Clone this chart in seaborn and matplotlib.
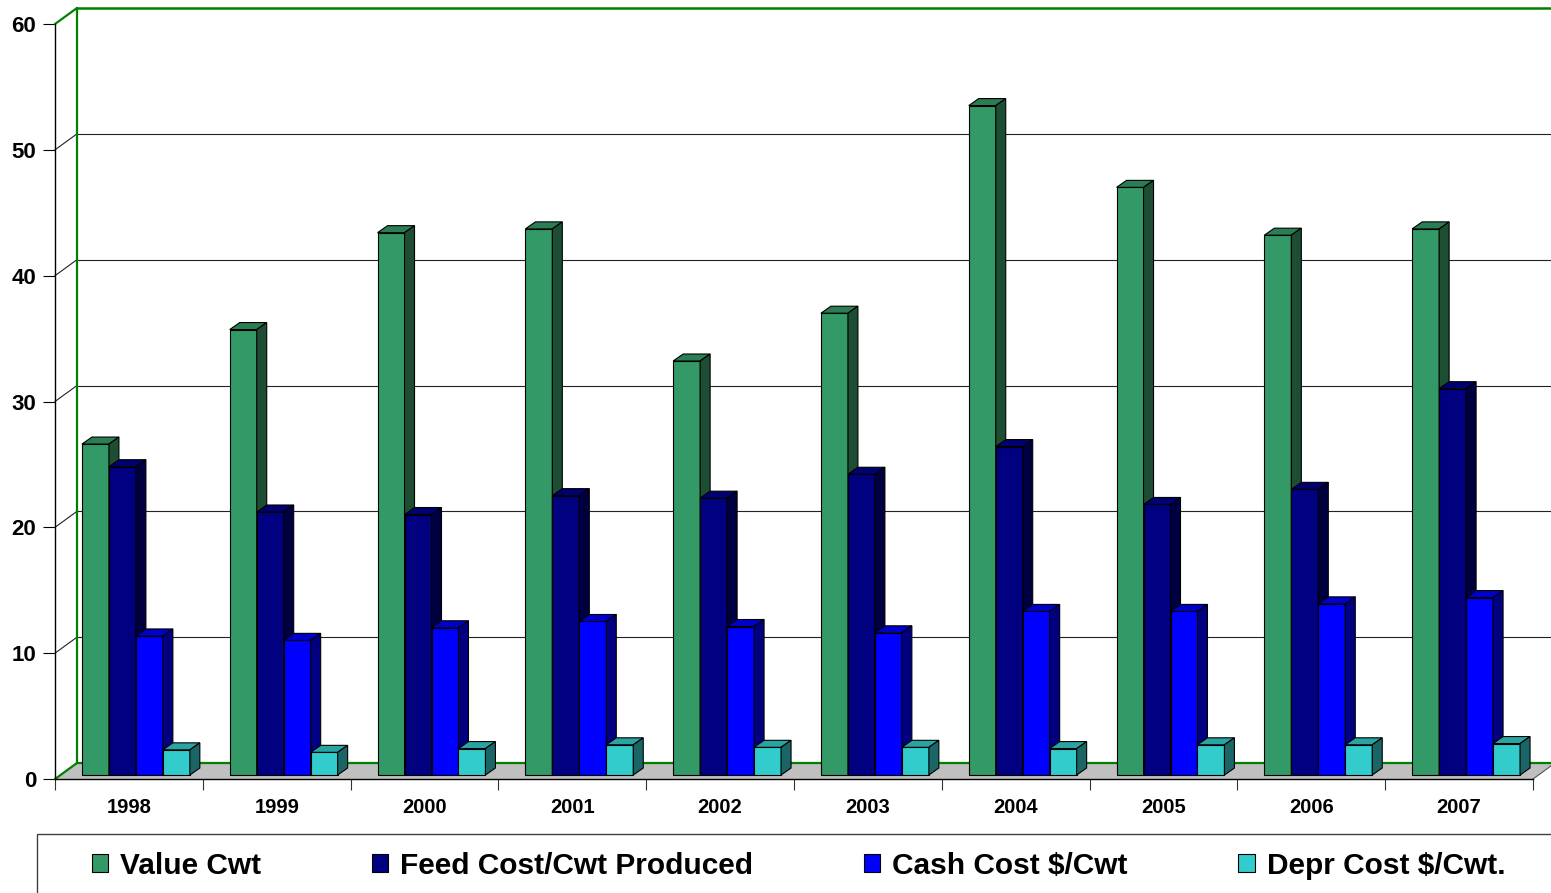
import numpy as np
import pandas as pd
import seaborn as sns
import matplotlib.pyplot as plt
import matplotlib.colors as mcolors
import matplotlib.transforms as mtransforms
from matplotlib.patches import Polygon, Rectangle, Patch

# values
years = ["1998", "1999", "2000", "2001", "2002", "2003", "2004", "2005", "2006", "2007"]
value_cwt = [26.3, 35.4, 43.1, 43.4, 32.9, 36.7, 53.2, 46.7, 42.9, 43.4]
feed_cost = [24.5, 20.9, 20.7, 22.2, 22.0, 23.9, 26.1, 21.5, 22.7, 30.7]
cash_cost = [11.05, 10.7, 11.7, 12.2, 11.8, 11.3, 13.0, 13.0, 13.6, 14.1]
depr_cost = [2.0, 1.8, 2.1, 2.4, 2.2, 2.2, 2.1, 2.4, 2.4, 2.5]
series = ["Value Cwt", "Feed Cost/Cwt Produced", "Cash Cost $/Cwt", "Depr Cost $/Cwt."]

# colours: front face, top face, side face
front_colors = ["#339966", "#000080", "#0000ff", "#33cccc"]
top_colors = ["#2b7d53", "#000070", "#0000cc", "#2aa3a3"]
side_colors = ["#1d4d33", "#000040", "#000080", "#1a6666"]

df = pd.DataFrame({
    "Year": years * 4,
    "Series": np.repeat(series, len(years)),
    "Value": value_cwt + feed_cost + cash_cost + depr_cost,
})

sns.set_theme(style="ticks")
plt.rcParams["font.family"] = ["Liberation Sans", "DejaVu Sans"]
plt.rcParams["font.weight"] = "bold"
plt.rcParams["text.color"] = "black"
plt.rcParams["xtick.labelcolor"] = "black"
plt.rcParams["ytick.labelcolor"] = "black"

W, H = 1551, 893
fig = plt.figure(figsize=(W / 100, H / 100), dpi=100)
# front plane of the 3d box
ax = fig.add_axes([55 / W, (H - 779) / H, 1478 / W, 755 / H])

sns.barplot(
    data=df, x="Year", y="Value", hue="Series", hue_order=series,
    palette=front_colors, saturation=1, width=0.73,
    edgecolor="black", linewidth=0.8, legend=False, ax=ax,
)
ax.set_xlim(-0.5, 9.5)
ax.set_ylim(0, 60)

# pixel -> data unit factors
sx = 1478 / 10
sy = 755 / 60
wall_dx, wall_dy = 22 / sx, 16 / sy
bar_dx, bar_dy = 10 / sx, 7 / sy

bar_tr = ax.transData + mtransforms.ScaledTranslation(0.07, 0.04, fig.dpi_scale_trans)
wall_tr = ax.transData + mtransforms.ScaledTranslation(0.22, 0.16, fig.dpi_scale_trans)

# give each bar a top and side face
for p in list(ax.patches):
    hexc = mcolors.to_hex(p.get_facecolor())
    if hexc not in front_colors:
        continue
    k = front_colors.index(hexc)
    x, y0, w, h = p.get_x(), p.get_y(), p.get_width(), p.get_height()
    top = y0 + h
    p.set_transform(bar_tr)
    p.set_zorder(3 + k)
    p.set_clip_on(False)
    top_face = Polygon([(x, top), (x + w, top), (x + w + bar_dx, top + bar_dy), (x + bar_dx, top + bar_dy)],
                       closed=True, facecolor=top_colors[k], edgecolor="black", lw=0.8,
                       transform=bar_tr, zorder=3 + k, clip_on=False)
    side_face = Polygon([(x + w, y0), (x + w + bar_dx, y0 + bar_dy), (x + w + bar_dx, top + bar_dy), (x + w, top)],
                        closed=True, facecolor=side_colors[k], edgecolor="black", lw=0.8,
                        transform=bar_tr, zorder=3 + k, clip_on=False)
    ax.add_patch(top_face)
    ax.add_patch(side_face)

# floor
floor = Polygon([(-0.5, 0), (9.5, 0), (9.5 + wall_dx, wall_dy), (-0.5 + wall_dx, wall_dy)],
                closed=True, facecolor="#c0c0c0", edgecolor="none", zorder=1, clip_on=False)
ax.add_patch(floor)
ax.plot([9.5, 9.5 + wall_dx], [0, wall_dy], color="#555555", lw=0.8, zorder=1.2, clip_on=False)

# gridlines on back wall and side wall
for v in range(10, 60, 10):
    ax.plot([-0.5, 10.5], [v, v], transform=wall_tr, color="#222222", lw=0.8, zorder=0.8, clip_on=False)
    ax.plot([-0.5, -0.5 + wall_dx], [v, v + wall_dy], color="#222222", lw=0.8, zorder=0.8, clip_on=False)

# green wall border
green = "#008000"
ax.plot([-0.5, -0.5], [0, 60], transform=wall_tr, color=green, lw=1.6, zorder=1.5, clip_on=False)
ax.plot([-0.5, 10.5], [60, 60], transform=wall_tr, color=green, lw=1.8, zorder=1.5, clip_on=False)
ax.plot([-0.5, 10.5], [0, 0], transform=wall_tr, color=green, lw=1.6, zorder=1.5, clip_on=False)
for v in (0, 60):
    ax.plot([-0.5, -0.5 + wall_dx], [v, v + wall_dy], color=green, lw=1.6, zorder=1.5, clip_on=False)

# axes styling
ax.patch.set_alpha(0)
sns.despine(ax=ax, top=True, right=True)
for s in ("left", "bottom"):
    ax.spines[s].set_color("black")
    ax.spines[s].set_linewidth(1.0)
ax.set_xlabel("")
ax.set_ylabel("")
ax.set_yticks(range(0, 61, 10))
ax.tick_params(axis="y", left=True, length=8.6, width=0.8, color="black", pad=5, labelsize=16,
               labelcolor="black")
ax.set_xticks(np.arange(-0.5, 10, 1), minor=True)
ax.tick_params(axis="x", which="major", length=0, pad=14, labelsize=14.5, labelcolor="black")
ax.tick_params(axis="x", which="minor", bottom=True, length=8, width=0.8, color="#333333")

# legend with a box running off the figure
handles = [Patch(facecolor=c, edgecolor="black", lw=0.8) for c in front_colors]
fig.legend(handles, series, loc="center left", bbox_to_anchor=(92 / W, (H - 866) / H),
           ncol=4, frameon=False, fontsize=21.5, handlelength=0.55, handleheight=0.55,
           handletextpad=0.4, columnspacing=3.7, borderpad=0, borderaxespad=0,
           labelcolor="black")
fig.add_artist(Rectangle((37 / W, -0.1), 1.2, (H - 834) / H + 0.1, transform=fig.transFigure,
                         fill=False, edgecolor="#404040", lw=1))

fig.savefig("out.png", dpi=100)
